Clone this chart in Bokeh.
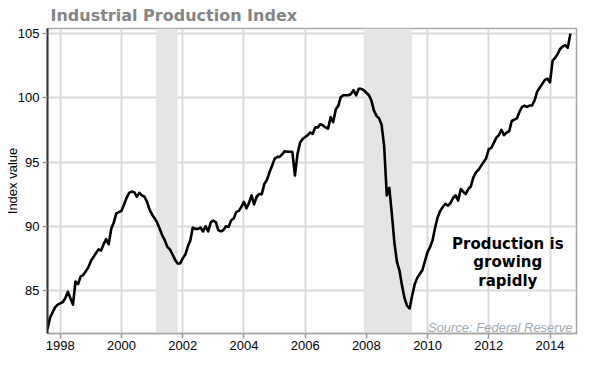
import pandas as pd
from bokeh.plotting import figure
from bokeh.models import Range1d, FixedTicker, DatetimeTickFormatter, BoxAnnotation, Label
from bokeh.embed import file_html
from bokeh.resources import INLINE

# ---- data ----
first_month = "1997-08-01"
ip_monthly = [
    82.0, 82.9, 83.3, 83.7, 83.9,                                               # 1997 Aug-Dec
    84.0, 84.1, 84.4, 84.9, 84.4, 83.9, 85.7, 85.5, 86.1, 86.2, 86.5, 86.8,     # 1998
    87.3, 87.6, 87.9, 88.2, 88.1, 88.6, 89.0, 88.6, 89.8, 90.3, 91.0, 91.1,     # 1999
    91.2, 91.7, 92.2, 92.6, 92.7, 92.65, 92.3, 92.6, 92.4, 92.3, 91.9, 91.3,    # 2000
    90.9, 90.6, 90.3, 89.8, 89.3, 88.9, 88.4, 88.2, 87.8, 87.4, 87.1, 87.1,     # 2001
    87.5, 87.8, 88.4, 88.9, 89.9, 89.8, 89.8, 89.9, 89.6, 90.0, 89.6, 90.3,     # 2002
    90.45, 90.3, 89.7, 89.6, 89.7, 90.0, 89.95, 90.45, 90.6, 91.1, 91.2, 91.5,  # 2003
    91.9, 91.4, 91.8, 92.4, 91.7, 92.3, 92.5, 92.5, 93.3, 93.6, 94.2, 94.7,     # 2004
    95.25, 95.4, 95.4, 95.6, 95.85, 95.8, 95.8, 95.8, 93.95, 95.6, 96.5, 96.8,  # 2005
    96.95, 97.1, 97.3, 97.2, 97.7, 97.7, 97.95, 97.85, 97.7, 97.6, 98.5, 98.1,  # 2006
    99.1, 99.4, 100.05, 100.2, 100.2, 100.2, 100.3, 100.6, 100.2, 100.7, 100.7, 100.6,  # 2007
    100.4, 100.2, 99.8, 99.0, 98.6, 98.4, 97.9, 96.2, 92.4, 93.0, 90.9, 88.7,   # 2008
    87.2, 86.5, 85.4, 84.4, 83.8, 83.6, 84.6, 85.5, 86.0, 86.3, 86.6, 87.3,     # 2009
    88.0, 88.4, 88.9, 89.9, 90.7, 91.2, 91.5, 91.75, 91.6, 91.8, 92.2, 92.4,    # 2010
    92.0, 92.9, 92.7, 92.5, 92.9, 93.1, 93.8, 94.2, 94.4, 94.7, 95.0, 95.3,     # 2011
    96.0, 96.1, 96.5, 96.9, 97.1, 97.5, 97.1, 97.3, 97.4, 98.2, 98.3, 98.4,     # 2012
    98.9, 99.3, 99.4, 99.3, 99.4, 99.4, 99.8, 100.5, 100.8, 101.1, 101.4, 101.5,  # 2013
    101.2, 102.9, 103.1, 103.4, 103.8, 104.0, 104.1, 103.9, 105.0,             # 2014 Jan-Sep
]
recession_start = ["2001-02-15", "2007-12-01"]
recession_end = ["2001-11-01", "2009-06-30"]
x_tick_years = [1998, 2000, 2002, 2004, 2006, 2008, 2010, 2012, 2014]
y_ticks = [85, 90, 95, 100, 105]
title_text = "Industrial Production Index"
y_label = "Index value"
note_lines = ["Production is", "growing", "rapidly"]
source_text = "Source: Federal Reserve"

dates = pd.date_range(first_month, periods=len(ip_monthly), freq="MS")

p = figure(width=584, height=368, x_axis_type="datetime",
           output_backend="svg", toolbar_location=None,
           x_range=Range1d(pd.Timestamp("1997-08-01"), pd.Timestamp("2014-11-13")),
           y_range=Range1d(81.65, 105.4),
           min_border_left=47, min_border_right=8, min_border_top=28, min_border_bottom=35)

p.background_fill_color = "white"
p.border_fill_color = "white"
p.outline_line_color = "#a6a6a6"
p.outline_line_width = 1.5

# title
p.title.text = title_text
p.title.text_font = "DejaVu Sans"
p.title.text_font_style = "bold"
p.title.text_font_size = "16px"
p.title.text_color = "#858585"
p.title.align = "left"
p.title.offset = 3
p.title.standoff = 7

# axes
xticker = FixedTicker(ticks=[pd.Timestamp(f"{y}-01-01").timestamp() * 1000 for y in x_tick_years])
p.xaxis.ticker = xticker
p.xgrid.ticker = xticker
fmt = "%Y"
p.xaxis.formatter = DatetimeTickFormatter(
    microseconds=fmt, milliseconds=fmt, seconds=fmt, minsec=fmt, minutes=fmt,
    hourmin=fmt, hours=fmt, days=fmt, months=fmt, years=fmt)
yticker = FixedTicker(ticks=y_ticks)
p.yaxis.ticker = yticker
p.ygrid.ticker = yticker

for ax in (p.xaxis[0], p.yaxis[0]):
    ax.major_label_text_font = "Liberation Sans"
    ax.major_label_text_font_size = "13px"
    ax.major_label_text_color = "black"
    ax.major_tick_in = 0
    ax.major_tick_out = 5
    ax.major_tick_line_color = "#999999"
    ax.major_tick_line_width = 1.5
    ax.minor_tick_line_color = None

p.xaxis.axis_line_color = "#a6a6a6"
p.xaxis.axis_line_width = 1.5
p.xaxis.major_label_standoff = 2
p.yaxis.axis_line_color = "#333333"
p.yaxis.axis_line_width = 2
p.yaxis.major_label_standoff = 3
p.yaxis.axis_label = y_label
p.yaxis.axis_label_text_font = "Liberation Sans"
p.yaxis.axis_label_text_font_size = "13px"
p.yaxis.axis_label_text_font_style = "normal"
p.yaxis.axis_label_text_color = "black"
p.yaxis.axis_label_standoff = -5

p.grid.grid_line_color = "#dadada"
p.grid.grid_line_width = 2

# recession shading
for s, e in zip(recession_start, recession_end):
    p.add_layout(BoxAnnotation(left=pd.Timestamp(s), right=pd.Timestamp(e),
                               fill_color="#e5e5e5", fill_alpha=1.0,
                               line_color=None, level="underlay"))

# data line
p.line(dates, ip_monthly, line_color="black", line_width=2.6, line_join="round")

# annotation text
note_x = pd.Timestamp("2012-08-15")
note_y = [88.63, 87.2, 85.77]
for txt, yy in zip(note_lines, note_y):
    p.add_layout(Label(x=note_x, y=yy, text=txt, text_align="center",
                       text_baseline="alphabetic", text_font="DejaVu Sans",
                       text_font_style="bold", text_font_size="15px", text_color="black"))

p.add_layout(Label(x=pd.Timestamp("2014-09-25"), y=82.12, text=source_text,
                   text_align="right", text_baseline="alphabetic",
                   text_font="Liberation Sans", text_font_style="italic",
                   text_font_size="13px", text_color="#a3a9b0"))

open("out.html", "w").write(file_html(p, INLINE))
